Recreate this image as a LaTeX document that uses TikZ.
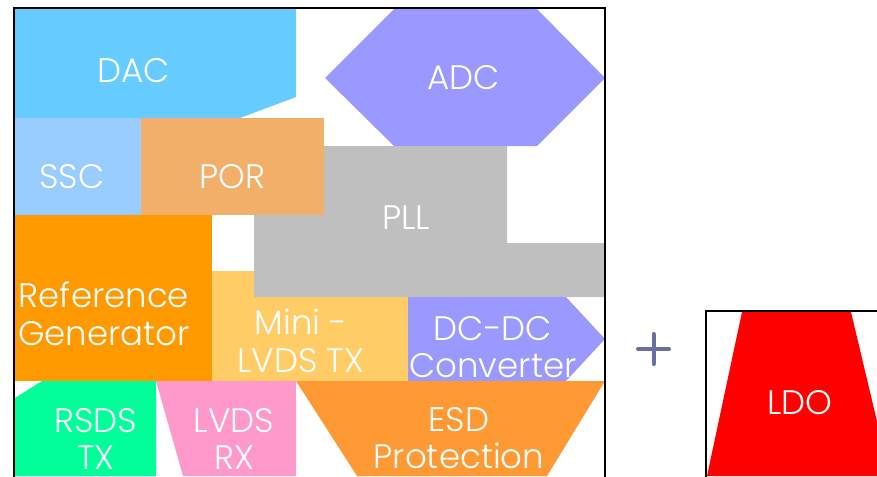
\documentclass[tikz,border=0pt]{standalone}
\usepackage{fontspec}
\setmainfont{Poppins Light}
\begin{document}
\begin{tikzpicture}[x=1pt,y=-1pt,
  lbl/.style={text=white,font=\fontsize{34}{37.5}\selectfont,align=center,inner sep=0pt},
  blk/.style={draw=none}]
\useasboundingbox (0,0) rectangle (877,476);
\fill[white] (0,0) rectangle (877,476);
% blocks
\fill[blk,fill={rgb,255:red,102;green,204;blue,255}] (15,9) -- (296,9) -- (296,97) -- (240,118) -- (15,118) -- cycle;
\fill[blk,fill={rgb,255:red,153;green,153;blue,255}] (325,78) -- (394,9) -- (537,9) -- (605,78) -- (537,146) -- (394,146) -- cycle;
\fill[blk,fill={rgb,255:red,255;green,204;blue,102}] (212,271) rectangle (408,381);
\fill[blk,fill={rgb,255:red,191;green,191;blue,191}] (254,146) -- (507,146) -- (507,243) -- (605,243) -- (605,297) -- (254,297) -- cycle;
\fill[blk,fill={rgb,255:red,153;green,204;blue,255}] (15,118) rectangle (141,215);
\fill[blk,fill={rgb,255:red,242;green,175;blue,106}] (141,118) rectangle (324,215);
\fill[blk,fill={rgb,255:red,255;green,153;blue,0}] (15,215) rectangle (212,381);
\fill[blk,fill={rgb,255:red,153;green,153;blue,255}] (408,297) -- (566,297) -- (605,339) -- (566,381) -- (408,381) -- cycle;
\fill[blk,fill={rgb,255:red,255;green,153;blue,51}] (296,381) -- (605,381) -- (547,476) -- (357,476) -- cycle;
\fill[blk,fill={rgb,255:red,0;green,255;blue,153}] (42,381) -- (156,381) -- (156,476) -- (15,476) -- (15,398) -- cycle;
\fill[blk,fill={rgb,255:red,255;green,153;blue,204}] (156,381) -- (296,381) -- (296,476) -- (183,476) -- cycle;
% frames
\draw[line width=2pt] (14,8) rectangle (605,482);
\fill[red] (742,312) -- (851,312) -- (890,476) -- (707,476) -- cycle;
\draw[line width=2pt] (706,311) rectangle (882,482);
% plus
\draw[line width=4pt,line cap=round,color={rgb,255:red,106;green,110;blue,160}] (638,349) -- (669,349) (653.5,334) -- (653.5,364);
% labels
\node[lbl] (dac) at (133.5,71) {DAC};
\node[lbl] (adc) at (464,78) {ADC};
\node[lbl] (ssc) at (72,177) {SSC};
\node[lbl] (por) at (232.5,177) {POR};
\node[lbl] (pll) at (406,218) {PLL};
\node[lbl] (ref) at (104,314) {Reference\\Generator};
\node[lbl] (mini) at (301,341) {Mini -\\LVDS TX};
\node[lbl] (dcdc) at (493,347) {DC-DC\\Converter};
\node[lbl] (rsds) at (96,439) {RSDS\\TX};
\node[lbl] (lvds) at (234,439) {LVDS\\RX};
\node[lbl] (esd) at (459,438) {ESD\\Protection};
\node[lbl] (ldo) at (800,403) {LDO};
\end{tikzpicture}
\end{document}
